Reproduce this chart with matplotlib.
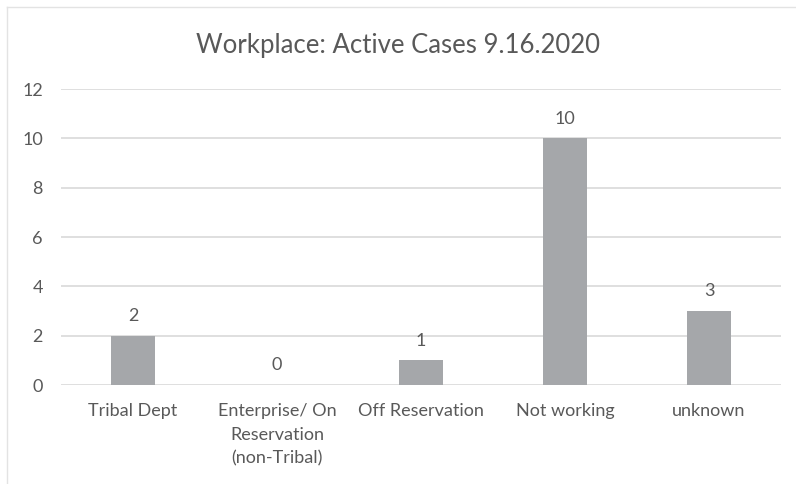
import matplotlib
matplotlib.use("Agg")
import matplotlib.pyplot as plt
from matplotlib.lines import Line2D

categories = ["Tribal Dept", "Enterprise/ On\nReservation\n(non-Tribal)", "Off Reservation", "Not working", "unknown"]
values = [2, 0, 1, 10, 3]
yticks = [0, 2, 4, 6, 8, 10, 12]
title = "Workplace: Active Cases 9.16.2020"

plt.rcParams['font.family'] = ['Lato', 'DejaVu Sans']
txt = "#595959"
grid = "#D9D9D9"
bar_color = "#A5A7AA"

fig = plt.figure(figsize=(7.96, 4.84), dpi=100)
ax = fig.add_axes([61/796, 1-385/484, 720/796, 296/484])

x = range(len(categories))
bars = ax.bar(x, values, width=0.31, color=bar_color, zorder=3)
ax.set_xlim(-0.5, len(categories)-0.5)
ax.set_ylim(0, 12)
ax.set_yticks(yticks)
ax.set_xticks(list(x))
ax.set_xticklabels(categories, color=txt, fontsize=13, linespacing=1.6)
ax.tick_params(axis='y', colors=txt, labelsize=13, length=0, pad=13)
ax.tick_params(axis='x', colors=txt, length=0, pad=13)
for lbl in ax.get_yticklabels():
    lbl.set_color(txt)
ax.grid(axis='y', color=grid, linewidth=1.2, zorder=0)
for s in ax.spines.values():
    s.set_visible(False)

for xi, v in zip(x, values):
    ax.annotate(str(v), (xi, v), xytext=(0, 8.5), textcoords='offset points',
                ha='center', va='bottom', color=txt, fontsize=13)

fig.text(0.5, 1-45/484, title, ha='center', va='center', color=txt, fontsize=18.5)

# light chart border (top and left)
fig.add_artist(Line2D([7/796, 1], [1-7/484, 1-7/484], color="#E3E3E3", linewidth=1, transform=fig.transFigure))
fig.add_artist(Line2D([7/796, 7/796], [0, 1-7/484], color="#E3E3E3", linewidth=1, transform=fig.transFigure))

fig.savefig("out.png", dpi=100, facecolor="white")
